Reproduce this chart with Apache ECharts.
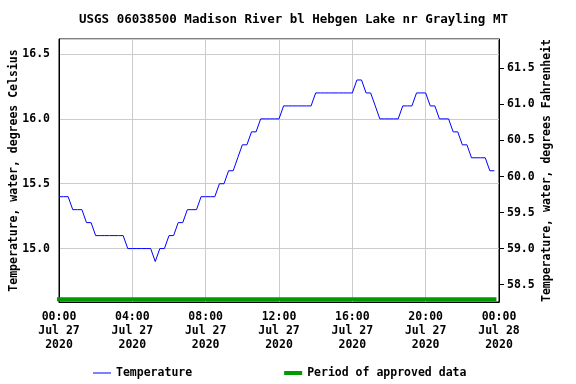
<!DOCTYPE html>
<html>
<head>
<meta charset="utf-8">
<script src="https://cdn.jsdelivr.net/npm/echarts@6/dist/echarts.min.js"></script>
<style>html,body{margin:0;padding:0;background:#fff}#c{width:576px;height:384px}</style>
</head>
<body>
<div id="c"></div>
<script>
// Water temperature, degrees Celsius, every 15 minutes from 00:00 Jul 27 2020
const tempC = [
  15.4, 15.4, 15.4, 15.3, 15.3, 15.3, 15.2, 15.2,
  15.1, 15.1, 15.1, 15.1, 15.1, 15.1, 15.1, 15.0,
  15.0, 15.0, 15.0, 15.0, 15.0, 14.9, 15.0, 15.0,
  15.1, 15.1, 15.2, 15.2, 15.3, 15.3, 15.3, 15.4,
  15.4, 15.4, 15.4, 15.5, 15.5, 15.6, 15.6, 15.7,
  15.8, 15.8, 15.9, 15.9, 16.0, 16.0, 16.0, 16.0,
  16.0, 16.1, 16.1, 16.1, 16.1, 16.1, 16.1, 16.1,
  16.2, 16.2, 16.2, 16.2, 16.2, 16.2, 16.2, 16.2,
  16.2, 16.3, 16.3, 16.2, 16.2, 16.1, 16.0, 16.0,
  16.0, 16.0, 16.0, 16.1, 16.1, 16.1, 16.2, 16.2,
  16.2, 16.1, 16.1, 16.0, 16.0, 16.0, 15.9, 15.9,
  15.8, 15.8, 15.7, 15.7, 15.7, 15.7, 15.6, 15.6
];
const stepHours = 0.25;
// Period of approved data (hours from start) and the level where the bar is drawn
const approvedPeriod = [0, 23.75];
const approvedLevel = 14.61;
// Axis tick labels
const xTickLabels = [
  "00:00\nJul 27\n2020", "04:00\nJul 27\n2020", "08:00\nJul 27\n2020",
  "12:00\nJul 27\n2020", "16:00\nJul 27\n2020", "20:00\nJul 27\n2020",
  "00:00\nJul 28\n2020"
];
const cTicks = [15.0, 15.5, 16.0, 16.5];
const fTicks = [58.5, 59.0, 59.5, 60.0, 60.5, 61.0, 61.5];
const cRange = [14.588, 16.616];

const tempData = tempC.map((v, i) => [i * stepHours, v]);
const approvedData = approvedPeriod.map(h => [h, approvedLevel]);
const toF = c => c * 1.8 + 32;

const FONT = "'DejaVu Sans Mono', monospace";
const txt = { fontFamily: FONT, fontWeight: 'bold', fontSize: 11.5, color: '#000' };

const chart = echarts.init(document.getElementById('c'), null, { renderer: 'canvas' });
chart.setOption({
  animation: false,
  backgroundColor: '#fff',
  title: {
    text: 'USGS 06038500 Madison River bl Hebgen Lake nr Grayling MT',
    left: 74, top: 8,
    textStyle: { fontFamily: FONT, fontWeight: 'bold', fontSize: 12.5, color: '#000' }
  },
  grid: {
    left: 59, right: 77, top: 39, bottom: 82,
    containLabel: false, outerBoundsMode: 'none',
    show: true, borderColor: '#000', borderWidth: 1, backgroundColor: 'transparent'
  },
  legend: {
    left: 88, top: 362, itemWidth: 18, itemHeight: 14, itemGap: 92,
    textStyle: Object.assign({}, txt),
    data: [
      { name: 'Temperature', icon: 'path://M0,6.5L18,6.5L18,7.5L0,7.5Z' },
      { name: 'Period of approved data', icon: 'path://M0,5L18,5L18,9L0,9Z' }
    ]
  },
  xAxis: {
    type: 'value', min: 0, max: 24, interval: 4,
    axisLine: { show: true, lineStyle: { color: '#000', width: 1 } },
    axisTick: { show: false },
    splitLine: { show: true, lineStyle: { color: '#cccccc', width: 1 } },
    axisLabel: Object.assign({}, txt, {
      margin: 8, lineHeight: 14,
      formatter: v => xTickLabels[Math.round(v / 4)]
    })
  },
  yAxis: [
    {
      type: 'value', position: 'left', min: cRange[0], max: cRange[1], splitNumber: 4,
      name: 'Temperature, water, degrees Celsius', nameLocation: 'middle', nameGap: 39,
      nameMoveOverlap: false,
      nameTextStyle: Object.assign({}, txt),
      axisLine: { show: true, lineStyle: { color: '#000', width: 1 } },
      axisTick: { show: false },
      splitLine: { show: true, lineStyle: { color: '#cccccc', width: 1 } },
      axisLabel: Object.assign({}, txt, { margin: 9, customValues: cTicks, formatter: v => v.toFixed(1) })
    },
    {
      type: 'value', position: 'right', min: toF(cRange[0]), max: toF(cRange[1]),
      name: 'Temperature, water, degrees Fahrenheit', nameLocation: 'middle', nameGap: 42,
      nameMoveOverlap: false,
      nameTextStyle: Object.assign({}, txt),
      axisLine: { show: true, lineStyle: { color: '#000', width: 1 } },
      axisTick: { show: true, inside: false, length: 5, customValues: fTicks, lineStyle: { color: '#000' } },
      splitLine: { show: false },
      axisLabel: Object.assign({}, txt, { margin: 8, customValues: fTicks, formatter: v => v.toFixed(1) })
    }
  ],
  series: [
    {
      name: 'Temperature', type: 'line', yAxisIndex: 0, data: tempData,
      symbol: 'none', lineStyle: { color: '#0000ff', width: 1 }, itemStyle: { color: '#0000ff' }, z: 3
    },
    {
      name: 'Period of approved data', type: 'line', yAxisIndex: 0, data: approvedData,
      symbol: 'none', lineStyle: { color: '#009900', width: 4, cap: 'square' }, itemStyle: { color: '#009900' }, z: 2
    }
  ]
});
</script>
</body>
</html>
